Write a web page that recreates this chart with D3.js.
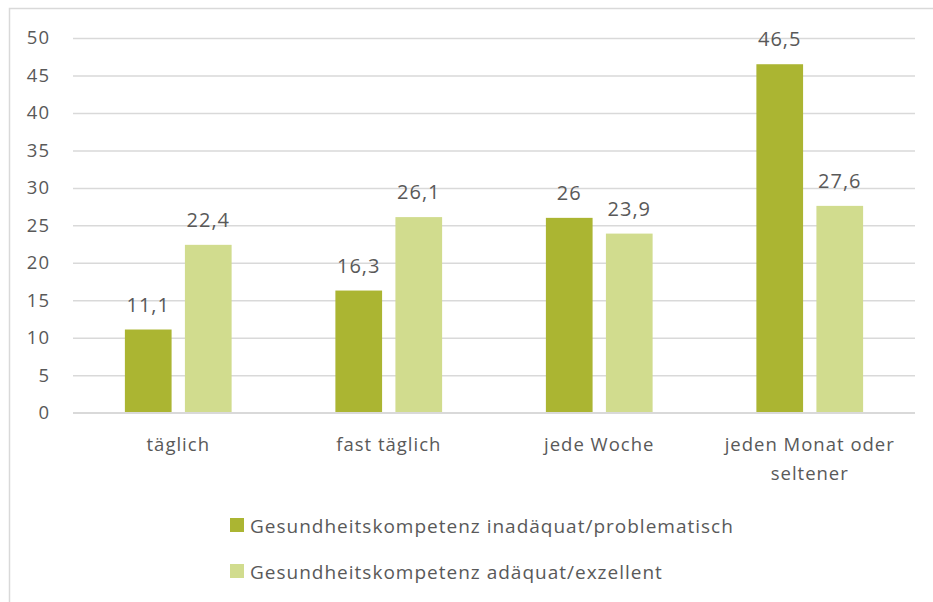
<!DOCTYPE html>
<html>
<head>
<meta charset="utf-8">
<script src="https://cdn.jsdelivr.net/npm/d3@7"></script>
<style>
  html, body { margin: 0; padding: 0; background: #fff; }
  svg { display: block; }
  text { font-family: "Open Sans", "Noto Sans", sans-serif; fill: #595959; letter-spacing: 1px; }
</style>
</head>
<body>
<svg id="chart" width="933" height="602"></svg>
<script>
// Frequency categories (x axis)
const categories = ["täglich", "fast täglich", "jede Woche", "jeden Monat oder seltener"];
const categoryLines = [["täglich"], ["fast täglich"], ["jede Woche"], ["jeden Monat oder", "seltener"]];
// Series
const seriesNames = [
  "Gesundheitskompetenz inadäquat/problematisch",
  "Gesundheitskompetenz adäquat/exzellent"
];
const inadequate = [11.1, 16.3, 26, 46.5];
const adequate = [22.4, 26.1, 23.9, 27.6];
const yTicks = [0, 5, 10, 15, 20, 25, 30, 35, 40, 45, 50];
const colors = ["#abb532", "#d1dc8e"];

const svg = d3.select("#chart");
const margin = { left: 73, right: 18, top: 38, bottom: 189 };
const W = 933, H = 602;
const plotW = W - margin.left - margin.right;
const y0 = 412.7;

// Outer frame
svg.append("rect")
  .attr("x", 9.5).attr("y", 8.5)
  .attr("width", 940).attr("height", 620)
  .attr("fill", "none").attr("stroke", "#d9d9d9").attr("stroke-width", 1.5);

const y = d3.scaleLinear().domain([0, 50]).range([y0, margin.top]);
const x0 = d3.scaleBand().domain(categories)
  .range([margin.left, margin.left + plotW])
  .paddingInner(0.493).paddingOuter(0.2465);
const x1 = d3.scaleBand().domain([0, 1])
  .range([0, x0.bandwidth()])
  .paddingInner(0.222).paddingOuter(0);

// Gridlines + y tick labels
const yAxis = d3.axisLeft(y).tickValues(yTicks).tickSize(-plotW).tickPadding(23)
  .tickFormat(d => String(d));
const gy = svg.append("g").attr("transform", `translate(${margin.left},0)`).call(yAxis);
gy.select(".domain").remove();
gy.selectAll(".tick line").attr("stroke", "#d9d9d9").attr("stroke-width", 1.5);
gy.selectAll(".tick text").attr("font-size", 18.5).attr("fill", "#595959")
  .style("font-family", '"Open Sans", sans-serif');

// Bars
const data = categories.map((c, i) => ({ cat: c, vals: [inadequate[i], adequate[i]] }));
const groups = svg.append("g").selectAll("g").data(data).join("g")
  .attr("transform", d => `translate(${x0(d.cat)},0)`);

groups.selectAll("rect").data(d => d.vals.map((v, k) => ({ v, k }))).join("rect")
  .attr("x", d => x1(d.k))
  .attr("width", x1.bandwidth())
  .attr("y", d => y(d.v))
  .attr("height", d => y(0) - y(d.v))
  .attr("fill", d => colors[d.k]);

// Value labels
groups.selectAll("text.val").data(d => d.vals.map((v, k) => ({ v, k }))).join("text")
  .attr("class", "val")
  .attr("x", d => x1(d.k) + x1.bandwidth() / 2)
  .attr("y", d => y(d.v) - 18)
  .attr("text-anchor", "middle")
  .attr("font-size", 20)
  .attr("fill", "#404040")
  .text(d => String(d.v).replace(".", ","));

// Baseline
svg.append("line")
  .attr("x1", margin.left).attr("x2", margin.left + plotW)
  .attr("y1", y0).attr("y2", y0)
  .attr("stroke", "#d9d9d9").attr("stroke-width", 1.5);

// Category labels
categories.forEach((c, i) => {
  const t = svg.append("text")
    .attr("x", x0(c) + x0.bandwidth() / 2)
    .attr("y", 451)
    .attr("text-anchor", "middle")
    .attr("font-size", 18.5);
  categoryLines[i].forEach((ln, j) => {
    t.append("tspan").attr("x", x0(c) + x0.bandwidth() / 2)
      .attr("dy", j === 0 ? 0 : 28.5).text(ln);
  });
});

// Legend
const legend = svg.append("g");
seriesNames.forEach((name, i) => {
  const ly = 518 + i * 46;
  legend.append("rect").attr("x", 230).attr("y", ly).attr("width", 14).attr("height", 14)
    .attr("fill", colors[i]);
  legend.append("text").attr("x", 250).attr("y", ly + 15).attr("font-size", 19).text(name);
});
</script>
</body>
</html>
